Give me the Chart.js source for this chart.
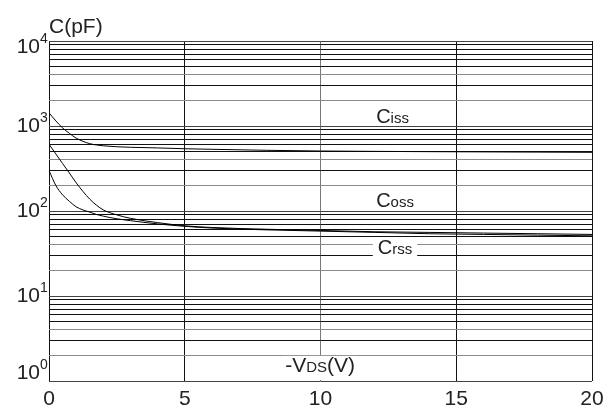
<!DOCTYPE html>
<html>
<head>
<meta charset="utf-8">
<script src="https://cdn.jsdelivr.net/npm/chart.js@4/dist/chart.umd.min.js"></script>
<style>
  html, body { margin: 0; padding: 0; background: #fff; }
  #wrap { width: 614px; height: 408px; }
</style>
</head>
<body>
<div id="wrap"><canvas id="c" width="614" height="408"></canvas></div>
<script>
// Drain-source voltage (-V, volts)
const vds  = [0, 0.25, 0.5, 0.75, 1, 1.25, 1.5, 1.75, 2, 2.5, 3, 4, 5, 6, 8, 10, 12, 14, 16, 18, 20];
// Capacitances (pF)
const ciss = [1430, 1150, 950, 820, 720, 660, 620, 598, 585, 570, 562, 552, 540, 532, 518, 508, 503, 499, 496, 493, 490];
const coss = [610, 470, 362, 280, 215, 170, 138, 117, 103, 90, 82, 73, 67, 64, 61, 59, 57, 56, 55, 54, 53];
const crss = [300, 200, 155, 130, 112, 103, 97, 91, 87, 81, 77, 70.5, 66, 63, 60, 58, 56, 54, 53, 52, 51];

// Axis tick labels
const xTickLabels = [0, 5, 10, 15, 20];
const yDecades = [0, 1, 2, 3, 4];

// Curve names, anchored in data coordinates (V, pF)
const curveNames = [
  { main: 'C', sub: 'iss', v: 12.05, c: 1077, box: false },
  { main: 'C', sub: 'oss', v: 12.05, c: 110,  box: false },
  { main: 'C', sub: 'rss', v: 12.11, c: 31,   box: true  }
];
const xTitle = { pre: '-V', sub: 'DS', post: '(V)', v: 8.7, c: 1.28 };
const yTitle = 'C(pF)';

const FONT = '"Liberation Sans", Arial, Helvetica, sans-serif';

function series(vals) {
  return vds.map((v, i) => ({ x: v, y: vals[i] }));
}

// Grid shade per mantissa within each decade
function gridShade(value) {
  const m = Math.round(value / Math.pow(10, Math.floor(Math.log10(value) + 1e-9)));
  if (m === 2 || m === 4) return '#8a8a8a';
  if (m === 1) return '#444';
  return '#111';
}

const textPlugin = {
  id: 'textLayer',
  afterDraw(chart) {
    const { ctx, chartArea, scales } = chart;
    const xs = scales.x, ys = scales.y;
    ctx.save();
    ctx.fillStyle = '#222';

    // y tick labels: 10 with superscript exponent
    yDecades.forEach(d => {
      let py = ys.getPixelForValue(Math.pow(10, d));
      py = Math.min(Math.max(py, chartArea.top + 6), chartArea.bottom - 8);
      ctx.font = '21px ' + FONT;
      ctx.textAlign = 'right';
      ctx.textBaseline = 'middle';
      ctx.fillText('10', 40, py);
      ctx.font = '14px ' + FONT;
      ctx.textAlign = 'left';
      ctx.fillText(String(d), 40, py - 8);
    });

    // x tick labels
    ctx.font = '21px ' + FONT;
    ctx.textAlign = 'center';
    ctx.textBaseline = 'middle';
    xTickLabels.forEach(v => {
      ctx.fillText(String(v), xs.getPixelForValue(v), chartArea.bottom + 18);
    });

    // y axis title
    ctx.textAlign = 'left';
    ctx.textBaseline = 'alphabetic';
    ctx.font = '21px ' + FONT;
    ctx.fillText(yTitle, chartArea.left, chartArea.top - 8);

    // curve names
    curveNames.forEach(n => {
      const px = xs.getPixelForValue(n.v);
      const py = ys.getPixelForValue(n.c);
      ctx.font = '20px ' + FONT;
      const w1 = ctx.measureText(n.main).width;
      ctx.font = '15px ' + FONT;
      const w2 = ctx.measureText(n.sub).width;
      if (n.box) {
        ctx.fillStyle = '#fff';
        ctx.fillRect(px - 5, py - 17, w1 + w2 + 10, 20);
        ctx.fillStyle = '#222';
      }
      ctx.font = '20px ' + FONT;
      ctx.fillText(n.main, px, py);
      ctx.font = '15px ' + FONT;
      ctx.fillText(n.sub, px + w1, py);
    });

    // x axis title inside the plot, on a white patch
    {
      const px = xs.getPixelForValue(xTitle.v);
      const py = ys.getPixelForValue(xTitle.c);
      ctx.font = '21px ' + FONT;
      const a = ctx.measureText(xTitle.pre).width;
      const c = ctx.measureText(xTitle.post).width;
      ctx.font = '15px ' + FONT;
      const b = ctx.measureText(xTitle.sub).width;
      ctx.fillStyle = '#fff';
      ctx.fillRect(px - 3, py - 16, a + b + c + 6, chartArea.bottom - 1 - (py - 16));
      ctx.fillStyle = '#222';
      ctx.font = '21px ' + FONT;
      ctx.fillText(xTitle.pre, px, py);
      ctx.font = '15px ' + FONT;
      ctx.fillText(xTitle.sub, px + a, py);
      ctx.font = '21px ' + FONT;
      ctx.fillText(xTitle.post, px + a + b, py);
    }
    ctx.restore();
  }
};

const lineStyle = {
  borderColor: '#000',
  borderWidth: 1,
  pointRadius: 0,
  fill: false,
  cubicInterpolationMode: 'monotone'
};

new Chart(document.getElementById('c'), {
  type: 'line',
  data: {
    datasets: [
      { label: 'Ciss', data: series(ciss), ...lineStyle },
      { label: 'Coss', data: series(coss), ...lineStyle },
      { label: 'Crss', data: series(crss), ...lineStyle }
    ]
  },
  options: {
    responsive: false,
    animation: false,
    events: [],
    layout: { padding: { left: 49, right: 22, top: 41, bottom: 27 } },
    plugins: { legend: { display: false }, tooltip: { enabled: false } },
    scales: {
      x: {
        type: 'linear',
        min: 0, max: 20,
        afterBuildTicks(scale) { scale.ticks = xTickLabels.map(v => ({ value: v })); },
        ticks: { display: false },
        border: { display: false },
        grid: {
          drawTicks: false,
          lineWidth: 1,
          color: c => (c.tick && c.tick.value === 10) ? '#777' : '#111'
        }
      },
      y: {
        type: 'logarithmic',
        min: 1, max: 10000,
        afterBuildTicks(scale) {
          const t = [];
          for (let e = 0; e < 4; e++) {
            for (let m = 1; m <= 9; m++) t.push({ value: m * Math.pow(10, e) });
          }
          t.push({ value: 10000 });
          scale.ticks = t;
        },
        ticks: { display: false },
        border: { display: false },
        grid: {
          drawTicks: false,
          lineWidth: 1,
          color: c => c.tick ? gridShade(c.tick.value) : '#111'
        }
      }
    }
  },
  plugins: [textPlugin]
});
</script>
</body>
</html>
